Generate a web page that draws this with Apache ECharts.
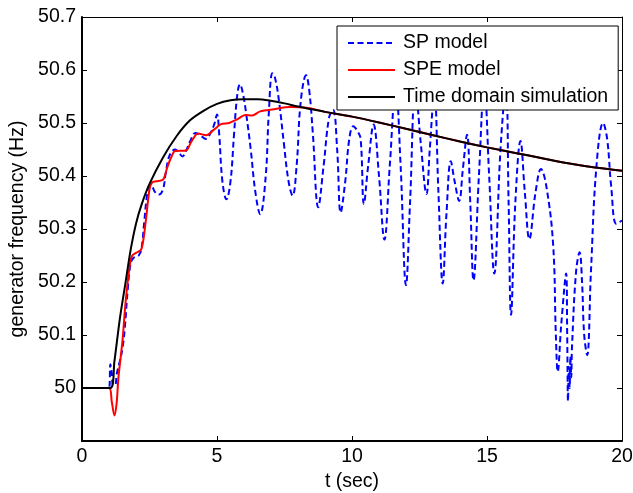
<!DOCTYPE html>
<html>
<head>
<meta charset="utf-8">
<script src="https://cdn.jsdelivr.net/npm/echarts@6/dist/echarts.min.js"></script>
<style>
html,body{margin:0;padding:0;background:#fff;}
#chart{width:633px;height:493px;}
</style>
</head>
<body>
<div id="chart"></div>
<script>
// ---- data ----
var seriesNames = ["SP model", "SPE model", "Time domain simulation"];
var xTicks = [0, 5, 10, 15, 20];
var yTicks = [50, 50.1, 50.2, 50.3, 50.4, 50.5, 50.6, 50.7];

var spT = [0, 1.0, 1.05, 1.1, 1.15, 1.22, 1.3, 1.4, 1.5, 1.58, 1.7, 1.8, 1.9, 2.0, 2.1, 2.2, 2.3, 2.4, 2.5, 2.6, 2.7, 2.85, 3.0, 3.1, 3.25, 3.45, 3.6, 3.72, 3.85, 4.0, 4.2, 4.35, 4.58, 4.75, 4.9, 5.0, 5.08, 5.2, 5.35, 5.5, 5.63, 5.75, 5.85, 5.97, 6.1, 6.25, 6.42, 6.6, 6.8, 6.92, 7.05, 7.15, 7.3, 7.48, 7.65, 7.8, 7.95, 8.1, 8.3, 8.42, 8.55, 8.75, 8.95, 9.15, 9.3, 9.45, 9.58, 9.75, 9.9, 10.05, 10.2, 10.32, 10.44, 10.6, 10.8, 11.0, 11.2, 11.4, 11.62, 11.8, 12.0, 12.15, 12.35, 12.55, 12.76, 12.88, 13.05, 13.2, 13.36, 13.5, 13.66, 13.8, 13.97, 14.1, 14.26, 14.38, 14.5, 14.7, 14.9, 15.08, 15.27, 15.5, 15.7, 15.8, 15.89, 16.05, 16.24, 16.4, 16.57, 16.8, 17.0, 17.2, 17.45, 17.55, 17.62, 17.75, 17.93, 17.97, 18.0, 18.03, 18.06, 18.09, 18.12, 18.15, 18.3, 18.43, 18.52, 18.6, 18.71, 18.85, 19.05, 19.3, 19.45, 19.6, 19.79, 20];
var spF = [50, 50, 50.045, 50.03, 50.005, 50.005, 50.03, 50.05, 50.075, 50.11, 50.19, 50.235, 50.245, 50.248, 50.25, 50.262, 50.31, 50.36, 50.382, 50.38, 50.37, 50.365, 50.375, 50.405, 50.44, 50.45, 50.443, 50.437, 50.447, 50.465, 50.481, 50.478, 50.47, 50.48, 50.498, 50.516, 50.48, 50.39, 50.356, 50.39, 50.478, 50.553, 50.573, 50.553, 50.51, 50.45, 50.37, 50.328, 50.397, 50.52, 50.594, 50.585, 50.54, 50.46, 50.39, 50.363, 50.42, 50.54, 50.59, 50.56, 50.48, 50.341, 50.42, 50.51, 50.525, 50.45, 50.331, 50.39, 50.47, 50.494, 50.485, 50.47, 50.347, 50.42, 50.497, 50.4, 50.28, 50.42, 50.57, 50.42, 50.194, 50.35, 50.57, 50.46, 50.366, 50.45, 50.56, 50.37, 50.197, 50.33, 50.428, 50.39, 50.353, 50.41, 50.478, 50.35, 50.203, 50.4, 50.57, 50.4, 50.216, 50.45, 50.57, 50.35, 50.138, 50.35, 50.466, 50.37, 50.281, 50.37, 50.413, 50.38, 50.27, 50.1, 50.031, 50.12, 50.216, 50.1, 49.975, 50.04, 50.0, 50.06, 50.02, 50.08, 50.22, 50.256, 50.2, 50.1, 50.062, 50.22, 50.416, 50.5, 50.47, 50.38, 50.31, 50.316];

var speT = [0, 1.0, 1.1, 1.2, 1.28, 1.35, 1.5, 1.62, 1.78, 1.86, 2.0, 2.2, 2.35, 2.5, 2.6, 2.75, 3.0, 3.15, 3.3, 3.45, 3.85, 4.05, 4.3, 4.6, 4.9, 5.15, 5.45, 5.75, 6.05, 6.3, 6.6, 7.1, 7.7, 8.3, 9, 10, 11, 12, 13, 14, 15, 16, 17, 18, 19, 20];
var speF = [50, 50, 49.975, 49.948, 49.97, 50.02, 50.09, 50.165, 50.235, 50.25, 50.255, 50.262, 50.31, 50.375, 50.388, 50.39, 50.393, 50.415, 50.435, 50.447, 50.448, 50.465, 50.48, 50.477, 50.488, 50.498, 50.5, 50.507, 50.515, 50.514, 50.522, 50.526, 50.53, 50.529, 50.521, 50.512, 50.501, 50.489, 50.477, 50.465, 50.454, 50.444, 50.434, 50.424, 50.416, 50.41];

var tdT = [0, 1.05, 1.2, 1.4, 1.6, 1.8, 2.0, 2.2, 2.5, 3.0, 3.5, 4.0, 4.5, 5.0, 5.5, 6.0, 6.5, 7.0, 7.5, 8.0, 8.5, 9.0, 10, 11, 12, 13, 14, 15, 16, 17, 18, 19, 20];
var tdF = [50, 50, 50.05, 50.13, 50.195, 50.26, 50.31, 50.345, 50.385, 50.435, 50.475, 50.505, 50.523, 50.536, 50.543, 50.545, 50.545, 50.542, 50.537, 50.531, 50.526, 50.521, 50.512, 50.501, 50.489, 50.477, 50.465, 50.454, 50.444, 50.434, 50.424, 50.416, 50.41];

function pairs(t, f) { return t.map(function (v, i) { return [v, f[i]]; }); }

var FONT = "'Liberation Sans', Arial, Helvetica, sans-serif";
var FS = 19.5;

var chart = echarts.init(document.getElementById('chart'), null, {renderer: 'canvas'});

var tickStyle = {show: true, inside: true, length: 5, lineStyle: {color: '#000', width: 1}};

chart.setOption({
  animation: false,
  backgroundColor: '#fff',
  textStyle: {fontFamily: FONT},
  grid: {left: 82, right: 11, top: 17, bottom: 52, containLabel: false, outerBoundsMode: 'none'},
  legend: {
    orient: 'vertical',
    left: 337, top: 26,
    itemWidth: 47, itemHeight: 14, itemGap: 7,
    padding: [7, 10, 3, 10],
    backgroundColor: '#fff',
    borderColor: '#000', borderWidth: 1, borderRadius: 0,
    itemStyle: {color: 'rgba(0,0,0,0)', borderColor: 'rgba(0,0,0,0)', borderWidth: 0},
    textStyle: {fontSize: FS, color: '#000', fontFamily: FONT, padding: [0, 0, 0, 3]},
    data: seriesNames,
    z: 10
  },
  xAxis: [{
    type: 'value', min: xTicks[0], max: xTicks[xTicks.length - 1], interval: 5,
    position: 'bottom',
    name: 't (sec)', nameLocation: 'middle', nameGap: 30,
    nameTextStyle: {fontSize: FS, color: '#000', fontFamily: FONT},
    axisLine: {show: true, onZero: false, lineStyle: {color: '#000', width: 2}},
    axisTick: tickStyle,
    axisLabel: {fontSize: FS, color: '#000', fontFamily: FONT, margin: 6},
    splitLine: {show: false}
  }, {
    type: 'value', min: xTicks[0], max: xTicks[xTicks.length - 1], interval: 5,
    position: 'top',
    axisLine: {show: true, onZero: false, lineStyle: {color: '#000', width: 1}},
    axisTick: tickStyle,
    axisLabel: {show: false},
    splitLine: {show: false}
  }],
  yAxis: [{
    type: 'value', min: 49.9, max: 50.7, interval: 0.1,
    position: 'left',
    name: 'generator frequency (Hz)', nameLocation: 'middle', nameGap: 47,
    nameTextStyle: {fontSize: FS, color: '#000', fontFamily: FONT},
    axisLine: {show: true, onZero: false, lineStyle: {color: '#000', width: 2}},
    axisTick: tickStyle,
    axisLabel: {
      fontSize: FS, color: '#000', fontFamily: FONT, margin: 6,
      formatter: function (v) {
        var r = Math.round(v * 10) / 10;
        for (var i = 0; i < yTicks.length; i++) { if (Math.abs(yTicks[i] - r) < 1e-6) return String(yTicks[i]); }
        return '';
      }
    },
    splitLine: {show: false}
  }, {
    type: 'value', min: 49.9, max: 50.7, interval: 0.1,
    position: 'right',
    axisLine: {show: true, onZero: false, lineStyle: {color: '#000', width: 1}},
    axisTick: tickStyle,
    axisLabel: {show: false},
    splitLine: {show: false}
  }],
  series: [{
    name: seriesNames[0], type: 'line', data: pairs(spT, spF),
    symbol: 'none', showSymbol: false, smooth: 0.4,
    lineStyle: {color: '#0000ff', width: 2, type: [6, 3.5]},
    itemStyle: {color: '#0000ff'}, z: 2
  }, {
    name: seriesNames[1], type: 'line', data: pairs(speT, speF),
    symbol: 'none', showSymbol: false, smooth: 0.3,
    lineStyle: {color: '#ff0000', width: 2},
    itemStyle: {color: '#ff0000'}, z: 3
  }, {
    name: seriesNames[2], type: 'line', data: pairs(tdT, tdF),
    symbol: 'none', showSymbol: false, smooth: 0.3,
    lineStyle: {color: '#000000', width: 2},
    itemStyle: {color: '#000000'}, z: 4
  }]
});
</script>
</body>
</html>
